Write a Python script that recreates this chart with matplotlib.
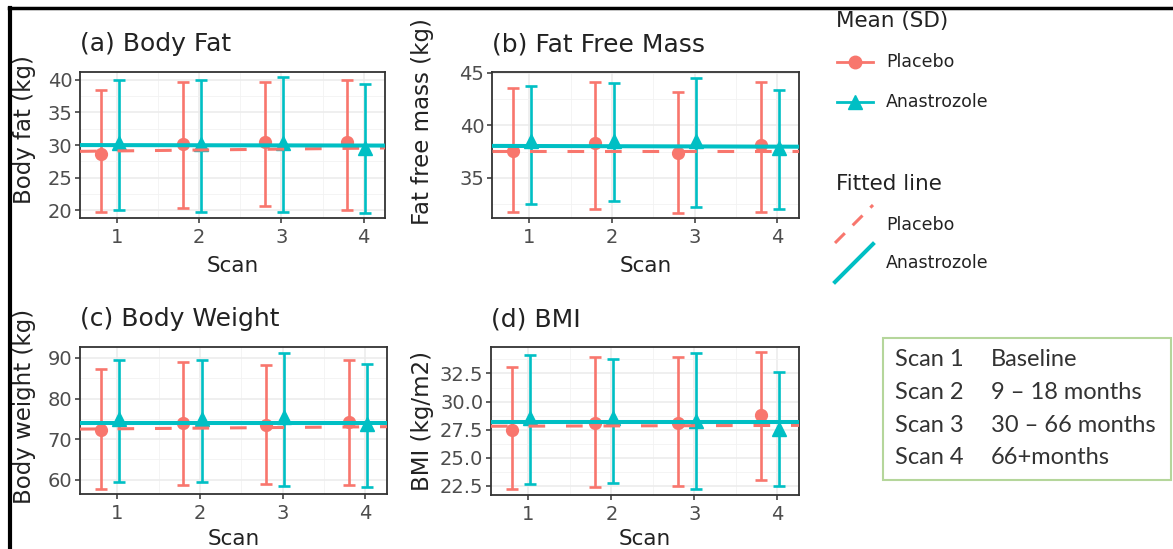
import matplotlib
matplotlib.use("Agg")
import matplotlib.pyplot as plt
from matplotlib.lines import Line2D
from matplotlib.patches import Rectangle
from matplotlib.ticker import MultipleLocator, FormatStrFormatter
import numpy as np

plt.rcParams['font.family'] = ['DejaVu Sans']
plt.rcParams['lines.scale_dashes'] = False

scans = [1, 2, 3, 4]
red = '#F8766D'
teal = '#00BFC4'

# (a) body fat (kg): mean, mean-SD, mean+SD
fat_pla_mean = [28.6, 30.2, 30.5, 30.4]
fat_pla_lo = [19.7, 20.3, 20.7, 20.1]
fat_pla_hi = [38.5, 39.7, 39.7, 40.0]
fat_ana_mean = [30.3, 30.2, 30.3, 29.5]
fat_ana_lo = [20.0, 19.7, 19.7, 19.6]
fat_ana_hi = [39.9, 40.0, 40.4, 39.4]
fat_fit_pla = [28.95, 0.14]   # intercept, slope
fat_fit_ana = [30.0, -0.02]

# (b) fat free mass (kg)
ffm_pla_mean = [37.6, 38.3, 37.4, 38.1]
ffm_pla_lo = [31.8, 32.1, 31.7, 31.8]
ffm_pla_hi = [43.5, 44.1, 43.2, 44.1]
ffm_ana_mean = [38.5, 38.5, 38.5, 37.8]
ffm_ana_lo = [32.5, 32.8, 32.2, 32.1]
ffm_ana_hi = [43.7, 44.0, 44.5, 43.3]
ffm_fit_pla = [37.6, 0.0]
ffm_fit_ana = [38.05, -0.02]

# (c) body weight (kg)
bw_pla_mean = [72.3, 73.9, 73.5, 74.2]
bw_pla_lo = [57.8, 58.8, 58.9, 58.8]
bw_pla_hi = [87.4, 89.0, 88.2, 89.6]
bw_ana_mean = [75.0, 75.0, 75.4, 73.7]
bw_ana_lo = [59.4, 59.4, 58.5, 58.2]
bw_ana_hi = [89.6, 89.4, 91.2, 88.4]
bw_fit_pla = [72.4, 0.16]
bw_fit_ana = [74.1, 0.0]

# (d) BMI (kg/m2)
bmi_pla_mean = [27.5, 28.1, 28.1, 28.8]
bmi_pla_lo = [22.2, 22.4, 22.5, 23.0]
bmi_pla_hi = [33.1, 34.0, 34.0, 34.4]
bmi_ana_mean = [28.5, 28.5, 28.3, 27.6]
bmi_ana_lo = [22.7, 22.8, 22.2, 22.5]
bmi_ana_hi = [34.1, 33.8, 34.3, 32.6]
bmi_fit_pla = [27.8, 0.02]
bmi_fit_ana = [28.2, 0.0]

scan_rows = ['Scan 1', 'Scan 2', 'Scan 3', 'Scan 4']
scan_times = ['Baseline', '9 \u2013 18 months', '30 \u2013 66 months', '66+months']

# box = panel edges in pixels (left, right, top, bottom); xl/yl = label centres
panels = [
    dict(title='(a) Body Fat', ylabel='Body fat (kg)', ylim=(18.8, 41.2), step=5, fmt='%d',
         pla=(fat_pla_mean, fat_pla_lo, fat_pla_hi), ana=(fat_ana_mean, fat_ana_lo, fat_ana_hi),
         fp=fat_fit_pla, fa=fat_fit_ana, box=(80, 385, 72, 218), xl=266, yl=(25, 130)),
    dict(title='(b) Fat Free Mass', ylabel='Fat free mass (kg)', ylim=(31.2, 45.05), step=5, fmt='%d',
         pla=(ffm_pla_mean, ffm_pla_lo, ffm_pla_hi), ana=(ffm_ana_mean, ffm_ana_lo, ffm_ana_hi),
         fp=ffm_fit_pla, fa=ffm_fit_ana, box=(492, 799, 72, 218), xl=266, yl=(422, 122)),
    dict(title='(c) Body Weight', ylabel='Body weight (kg)', ylim=(56.5, 92.7), step=10, fmt='%d',
         pla=(bw_pla_mean, bw_pla_lo, bw_pla_hi), ana=(bw_ana_mean, bw_ana_lo, bw_ana_hi),
         fp=bw_fit_pla, fa=bw_fit_ana, box=(80, 387, 347, 494), xl=539, yl=(25, 406)),
    dict(title='(d) BMI', ylabel='BMI (kg/m2)', ylim=(21.7, 34.85), step=2.5, fmt='%.1f',
         pla=(bmi_pla_mean, bmi_pla_lo, bmi_pla_hi), ana=(bmi_ana_mean, bmi_ana_lo, bmi_ana_hi),
         fp=bmi_fit_pla, fa=bmi_fit_ana, box=(491, 799, 347, 495), xl=539, yl=(422, 421)),
]

W, H = 1173, 549
fig = plt.figure(figsize=(W / 100, H / 100), dpi=100)

x = np.array(scans, dtype=float)
for p in panels:
    l, r, t, b = p['box']
    ax = fig.add_axes([l / W, 1 - b / H, (r - l) / W, (b - t) / H])
    ax.set_xlim(0.55, 4.26)
    ax.set_ylim(*p['ylim'])

    for (m, lo, hi), col, mk, ms, dx, z in [(p['pla'], red, 'o', 8.5, -0.2, 3),
                                           (p['ana'], teal, '^', 10, 0.02, 4)]:
        m, lo, hi = np.array(m), np.array(lo), np.array(hi)
        ax.errorbar(x + dx, m, yerr=[m - lo, hi - m], fmt=mk, color=col, ms=ms,
                    elinewidth=1.9, capsize=4.2, capthick=1.9, zorder=z)

    xs = np.array(ax.get_xlim())
    ax.plot(xs, p['fp'][0] + p['fp'][1] * xs, color=red, lw=2.2,
            dashes=(12, 15), zorder=5)
    ax.plot(xs, p['fa'][0] + p['fa'][1] * xs, color=teal, lw=2.9, zorder=6)

    ax.set_xticks(scans)
    ax.xaxis.set_minor_locator(MultipleLocator(0.5))
    ax.yaxis.set_major_locator(MultipleLocator(p['step']))
    ax.yaxis.set_minor_locator(MultipleLocator(p['step'] / 2))
    ax.yaxis.set_major_formatter(FormatStrFormatter(p['fmt']))
    ax.grid(which='major', color='#EBEBEB', lw=1.1)
    ax.grid(which='minor', color='#F2F2F2', lw=0.6)
    ax.set_axisbelow(True)
    for s in ax.spines.values():
        s.set_color('#333333')
        s.set_linewidth(1.3)
    ax.tick_params(which='major', length=3.5, width=1.1, color='#333333',
                   labelcolor='#4D4D4D', labelsize=14)
    ax.tick_params(axis='x', pad=4)
    ax.tick_params(axis='y', pad=2)
    ax.tick_params(which='minor', length=0)
    ax.set_xlabel('Scan', fontsize=15.5, color='#222222', va='center')
    ax.xaxis.set_label_coords(0.5, (b - p['xl']) / (b - t))
    ax.set_ylabel(p['ylabel'], fontsize=16.5, color='#222222', va='center')
    ax.yaxis.set_label_coords((p['yl'][0] - l) / (r - l), (b - p['yl'][1]) / (b - t))
    ax.set_title(p['title'], fontsize=18, color='#222222', loc='left', pad=15)

# legend drawn in pixel coordinates
lg = fig.add_axes([0, 0, 1, 1], facecolor='none')
lg.set_xlim(0, W)
lg.set_ylim(H, 0)
lg.axis('off')

lg.text(836, 21, 'Mean (SD)', fontsize=15.5, color='#222222', va='center')
for yy, col, mk, ms, lab in [(62, red, 'o', 9, 'Placebo'), (102, teal, '^', 10, 'Anastrozole')]:
    lg.add_line(Line2D([837, 873], [yy, yy], color=col, lw=2))
    lg.plot([855], [yy], marker=mk, color=col, ms=ms)
    lg.text(886, yy, lab, fontsize=12.5, color='#222222', va='center')

lg.text(836, 184, 'Fitted line', fontsize=15.5, color='#222222', va='center')
lg.add_line(Line2D([835, 873], [243, 205], color=red, lw=2.2, dashes=(10, 8)))
lg.text(886, 225, 'Placebo', fontsize=12.5, color='#222222', va='center')
lg.add_line(Line2D([835, 873], [282, 244], color=teal, lw=2.9))
lg.text(886, 263, 'Anastrozole', fontsize=12.5, color='#222222', va='center')

# scan timing box
lg.add_patch(Rectangle((883, 338), 288, 142, fill=False, ec='#B5D69B', lw=1.5))
for i, (a, b) in enumerate(zip(scan_rows, scan_times)):
    yy = 360 + i * 32.5
    lg.text(895, yy, a, fontsize=17, family='Lato', color='#333333', va='center')
    lg.text(991, yy, b, fontsize=17, family='Lato', color='#333333', va='center')

# black frame on top and left
lg.add_line(Line2D([9, W], [8, 8], color='black', lw=2.5))
lg.add_line(Line2D([9.5, 9.5], [8, H], color='black', lw=3))

fig.savefig('out.png', dpi=100)
